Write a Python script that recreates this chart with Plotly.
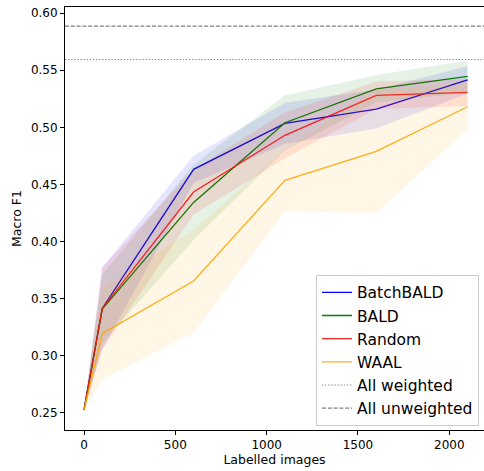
import plotly.graph_objects as go

# Learning curves: macro F1 vs number of labelled images (mean ± std over runs)
labelled = [0, 100, 600, 1100, 1600, 2100]

batchbald_mean = [0.2526, 0.3415, 0.4632, 0.5035, 0.5160, 0.5415]
batchbald_std = [0.0, 0.036, 0.012, 0.018, 0.017, 0.012]

bald_mean = [0.2526, 0.3410, 0.4343, 0.5040, 0.5337, 0.5445]
bald_std = [0.0, 0.030, 0.033, 0.024, 0.012, 0.014]

random_mean = [0.2526, 0.3415, 0.4434, 0.4930, 0.5280, 0.5306]
random_std = [0.0, 0.036, 0.020, 0.020, 0.012, 0.012]

waal_mean = [0.2526, 0.3196, 0.3655, 0.4536, 0.4790, 0.5180]
waal_std = [0.0, 0.040, 0.045, 0.027, 0.054, 0.020]

# Reference scores when training on the full dataset
all_weighted = 0.5594
all_unweighted = 0.5886

methods = [
    ("BatchBALD", batchbald_mean, batchbald_std, "rgb(0,0,255)", "rgba(0,0,255,0.1)"),
    ("BALD", bald_mean, bald_std, "rgb(0,128,0)", "rgba(0,128,0,0.1)"),
    ("Random", random_mean, random_std, "rgba(255,0,0,0.85)", "rgba(255,0,0,0.1)"),
    ("WAAL", waal_mean, waal_std, "rgba(255,165,0,0.9)", "rgba(255,165,0,0.1)"),
]

fig = go.Figure()

for name, mean, std, line_col, fill_col in methods:
    upper = [m + s for m, s in zip(mean, std)]
    lower = [m - s for m, s in zip(mean, std)]
    fig.add_trace(go.Scatter(
        x=labelled + labelled[::-1],
        y=upper + lower[::-1],
        fill="toself", fillcolor=fill_col,
        line=dict(width=0), mode="lines",
        hoverinfo="skip", showlegend=False,
    ))
    fig.add_trace(go.Scatter(
        x=labelled, y=mean, mode="lines", name=name,
        line=dict(color=line_col, width=1.3),
    ))

fig.add_hline(y=all_weighted, line=dict(color="grey", width=1.1, dash="1.3px,1.8px"),
              showlegend=True, name="All weighted")
fig.add_hline(y=all_unweighted, line=dict(color="grey", width=1.1, dash="4px,1.8px"),
              showlegend=True, name="All unweighted")

font = "DejaVu Sans, sans-serif"
fig.update_layout(
    width=484, height=471,
    margin=dict(l=65, r=0, t=7, b=41),
    plot_bgcolor="white", paper_bgcolor="white",
    font=dict(family=font, size=12, color="black"),
    legend=dict(
        x=0.988, y=0.01, xanchor="right", yanchor="bottom",
        bgcolor="rgba(255,255,255,0.8)", bordercolor="#cccccc", borderwidth=1,
        font=dict(family=font, size=15.5, color="black"),
        traceorder="normal",
    ),
)
fig.update_xaxes(
    range=[-104, 2190], tickvals=[0, 500, 1000, 1500, 2000],
    showgrid=False, zeroline=False,
    showline=True, linecolor="black", linewidth=1, mirror=True,
    ticks="outside", ticklen=4, tickcolor="black",
    title=dict(text="Labelled images", standoff=0, font=dict(size=12.5)),
    tickfont=dict(size=12),
)
fig.update_yaxes(
    range=[0.2351, 0.6053],
    tickvals=[0.25, 0.30, 0.35, 0.40, 0.45, 0.50, 0.55, 0.60],
    tickformat=".2f",
    showgrid=False, zeroline=False,
    showline=True, linecolor="black", linewidth=1,
    ticks="outside", ticklen=4, tickcolor="black",
    title=dict(text="Macro F1", standoff=6, font=dict(size=12.5)),
    tickfont=dict(size=12),
)

fig.write_html("out.html")
